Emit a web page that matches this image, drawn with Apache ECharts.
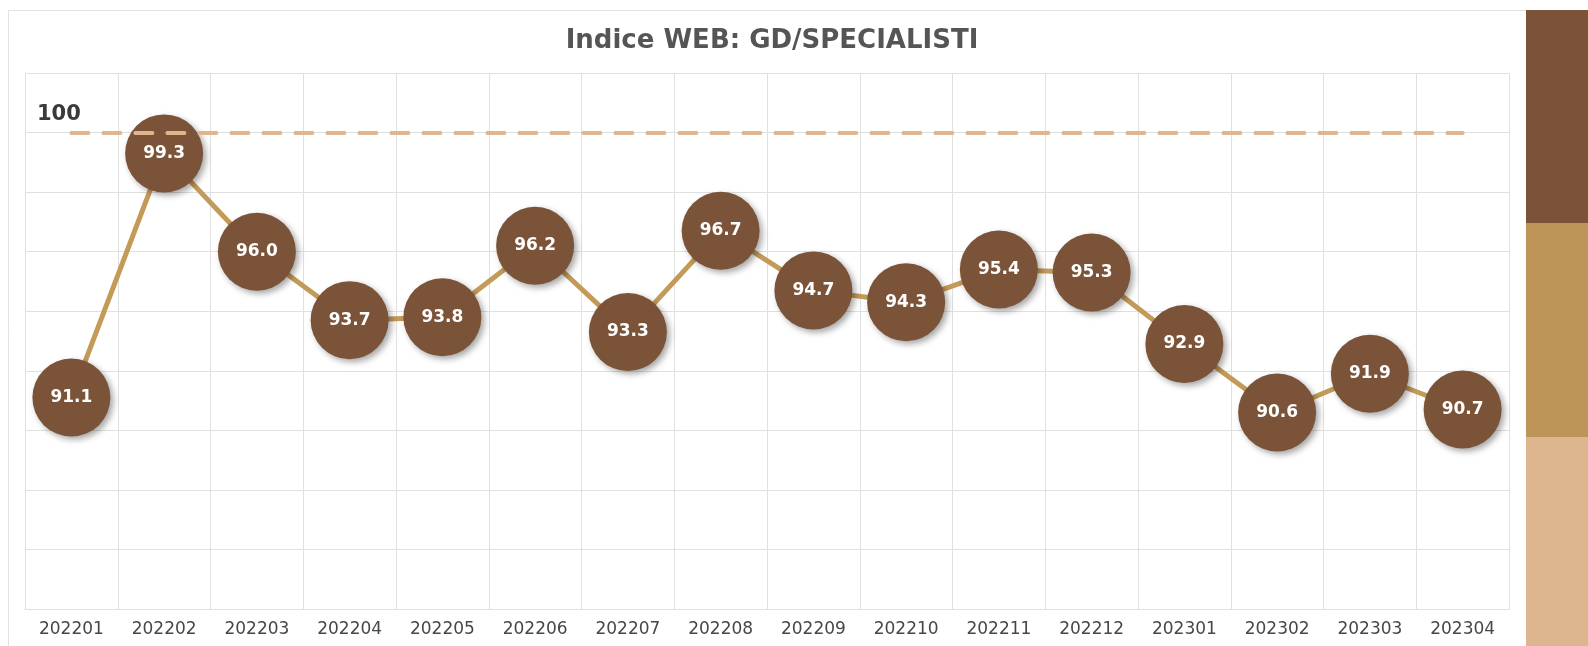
<!DOCTYPE html>
<html>
<head>
<meta charset="utf-8">
<script src="https://cdn.jsdelivr.net/npm/echarts@6/dist/echarts.min.js"></script>
<style>
html,body{margin:0;padding:0;background:#fff;}
#c{width:1588px;height:646px;}
</style>
</head>
<body>
<div id="c"></div>
<script>
const categories = ['202201','202202','202203','202204','202205','202206','202207','202208','202209','202210','202211','202212','202301','202302','202303','202304'];
const indexValues = [91.1, 99.3, 96.0, 93.7, 93.8, 96.2, 93.3, 96.7, 94.7, 94.3, 95.4, 95.3, 92.9, 90.6, 91.9, 90.7];
const referenceValue = 100;
const yTicks = {min: 84, max: 102, interval: 2};
const titleText = 'Indice WEB: GD/SPECIALISTI';

const chart = echarts.init(document.getElementById('c'));
chart.setOption({
  animation: false,
  backgroundColor: '#fff',
  title: {
    text: titleText,
    left: 767,
    textAlign: 'center',
    top: 23,
    textStyle: {fontFamily: 'DejaVu Sans', fontWeight: 'bold', fontSize: 26, color: '#555555'}
  },
  graphic: [
    {type: 'rect', z: -10, shape: {x: 8.5, y: 10.5, width: 1518, height: 700}, style: {fill: '#fff', stroke: '#e2e2e2', lineWidth: 1}},
    {type: 'rect', z: -5, shape: {x: 1526, y: 10, width: 62, height: 213}, style: {fill: '#7B5338'}},
    {type: 'rect', z: -5, shape: {x: 1526, y: 223, width: 62, height: 214}, style: {fill: '#BD9558'}},
    {type: 'rect', z: -5, shape: {x: 1526, y: 437, width: 62, height: 209}, style: {fill: '#DDB690'}}
  ],
  grid: {left: 25, right: 79, top: 73, bottom: 37},
  xAxis: {
    type: 'category',
    data: categories,
    boundaryGap: true,
    axisLine: {show: true, lineStyle: {color: '#e0e0e0', width: 1}},
    axisTick: {show: false},
    splitLine: {show: true, interval: 0, lineStyle: {color: '#e0e0e0', width: 1}},
    axisLabel: {interval: 0, margin: 12, fontFamily: 'DejaVu Sans', fontSize: 17, color: '#474747'}
  },
  yAxis: {
    type: 'value',
    min: yTicks.min,
    max: yTicks.max,
    interval: yTicks.interval,
    axisLine: {show: true, lineStyle: {color: '#e0e0e0'}},
    axisTick: {show: false},
    splitLine: {show: true, lineStyle: {color: '#e0e0e0', width: 1}},
    axisLabel: {
      inside: true,
      margin: 12,
      formatter: function (v) { return v === referenceValue ? String(referenceValue) : ''; },
      fontFamily: 'DejaVu Sans', fontWeight: 'bold', fontSize: 21, color: '#3a3a3a',
      verticalAlign: 'bottom', padding: [0, 0, 8, 0]
    }
  },
  series: [
    {
      type: 'line',
      data: indexValues,
      z: 3,
      symbol: 'circle',
      symbolSize: 78,
      lineStyle: {color: '#C39A58', width: 5},
      itemStyle: {color: '#7B5338', shadowBlur: 6, shadowColor: 'rgba(0,0,0,0.35)', shadowOffsetX: 3, shadowOffsetY: 3},
      label: {
        show: true, position: 'inside',
        formatter: function (p) { return p.value.toFixed(1); },
        fontFamily: 'DejaVu Sans', fontWeight: 'bold', fontSize: 17, color: '#fff'
      },
      emphasis: {disabled: true}
    },
    {
      type: 'line',
      data: [],
      z: 6,
      markLine: {
        symbol: ['none', 'none'],
        silent: true,
        label: {show: false},
        lineStyle: {color: '#E2B68C', width: 4, type: [17, 15], cap: 'round'},
        data: [[{coord: [categories[0], referenceValue]}, {coord: [categories[categories.length - 1], referenceValue]}]]
      }
    }
  ]
});
</script>
</body>
</html>
